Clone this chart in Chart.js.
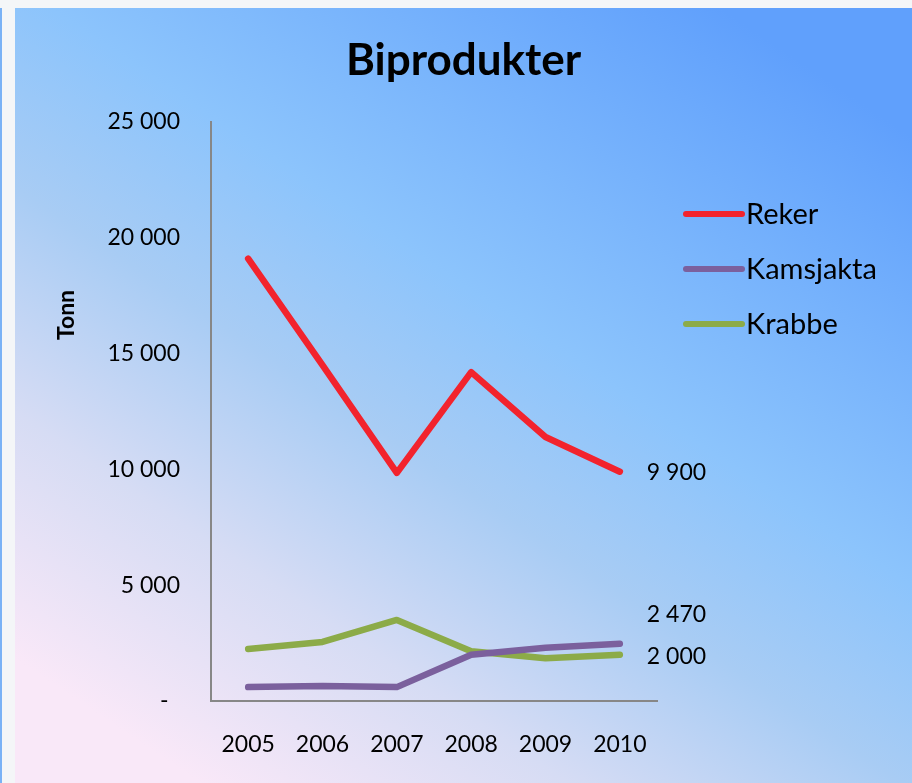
<!DOCTYPE html>
<html>
<head>
<meta charset="utf-8">
<script src="https://cdn.jsdelivr.net/npm/chart.js@4/dist/chart.umd.min.js"></script>
<style>
html,body{margin:0;padding:0;background:#f4f6f8;overflow:hidden}
#wrap{width:912px;height:783px;position:relative}
canvas{display:block}
</style>
</head>
<body>
<div id="wrap"><canvas id="c" width="912" height="783"></canvas></div>
<script>
// ---- data ----
const years = ['2005', '2006', '2007', '2008', '2009', '2010'];
const reker = [19100, 14500, 9850, 14200, 11400, 9900];
const kamsjakta = [600, 650, 600, 2000, 2300, 2470];
const krabbe = [2250, 2550, 3500, 2150, 1850, 2000];
const seriesNames = ['Reker', 'Kamsjakta', 'Krabbe'];
const yMin = 0, yMax = 25000, yStep = 5000;
const chartTitle = 'Biprodukter';
const yAxisTitle = 'Tonn';

function fmt(v) {
  if (v === 0) return '-\u2002';
  return String(v).replace(/\B(?=(\d{3})+(?!\d))/g, ' ');
}

const FONT = 'Lato';

const bgPlugin = {
  id: 'bg',
  beforeDraw(chart) {
    const ctx = chart.ctx;
    ctx.save();
    ctx.fillStyle = '#f4f6f8';
    ctx.fillRect(0, 0, chart.width, chart.height);
    ctx.fillStyle = '#7ab2f6';
    ctx.fillRect(0, 8, 2, chart.height - 8);
    const g = ctx.createLinearGradient(200, 783, 720, 8);
    g.addColorStop(0, '#f9e8f8');
    g.addColorStop(0.22, '#d6dcf4');
    g.addColorStop(0.42, '#a8ccf4');
    g.addColorStop(0.6, '#8cc4fc');
    g.addColorStop(1, '#60a0fc');
    ctx.fillStyle = g;
    ctx.fillRect(15, 8, chart.width - 15, chart.height - 8);
    ctx.restore();
  }
};

const extrasPlugin = {
  id: 'extras',
  afterDatasetsDraw(chart, args, opts) {
    const ctx = chart.ctx;
    const ca = chart.chartArea;
    ctx.save();
    // axis title
    ctx.fillStyle = '#000';
    ctx.font = 'bold 23px ' + FONT;
    ctx.textAlign = 'center';
    ctx.textBaseline = 'middle';
    ctx.translate(67, 315);
    ctx.rotate(-Math.PI / 2);
    ctx.fillText(yAxisTitle, 0, 0);
    ctx.restore();

    // end-of-line value labels
    ctx.save();
    ctx.fillStyle = '#000';
    ctx.font = '23px ' + FONT;
    ctx.textAlign = 'left';
    ctx.textBaseline = 'middle';
    chart.data.datasets.forEach((ds, i) => {
      const meta = chart.getDatasetMeta(i);
      const last = meta.data[meta.data.length - 1];
      const v = ds.data[ds.data.length - 1];
      ctx.fillText(fmt(v), last.x + 27, last.y + opts.labelOffsets[i]);
    });
    ctx.restore();

    // legend
    ctx.save();
    ctx.font = '29px ' + FONT;
    ctx.textAlign = 'left';
    ctx.textBaseline = 'middle';
    chart.data.datasets.forEach((ds, i) => {
      const y = ca.top + 92 + i * 55;
      const x0 = ca.right + 29;
      ctx.strokeStyle = ds.borderColor;
      ctx.lineWidth = 6;
      ctx.lineCap = 'round';
      ctx.beginPath();
      ctx.moveTo(x0, y);
      ctx.lineTo(x0 + 56, y);
      ctx.stroke();
      ctx.fillStyle = '#000';
      ctx.fillText(ds.label, x0 + 60, y + 1);
    });
    ctx.restore();
  }
};

const lineStyle = {
  borderWidth: 6.5,
  pointRadius: 0,
  pointHoverRadius: 0,
  tension: 0,
  borderCapStyle: 'round',
  borderJoinStyle: 'round',
  fill: false
};

new Chart(document.getElementById('c'), {
  type: 'line',
  data: {
    labels: years,
    datasets: [
      Object.assign({ label: seriesNames[0], data: reker, borderColor: '#f2232d', backgroundColor: '#f2232d' }, lineStyle),
      Object.assign({ label: seriesNames[1], data: kamsjakta, borderColor: '#7b609d', backgroundColor: '#7b609d' }, lineStyle),
      Object.assign({ label: seriesNames[2], data: krabbe, borderColor: '#8cab48', backgroundColor: '#8cab48' }, lineStyle)
    ]
  },
  options: {
    responsive: false,
    animation: false,
    devicePixelRatio: 1,
    layout: { padding: { left: 15, top: 0, right: 0, bottom: 22 } },
    plugins: {
      legend: { display: false },
      tooltip: { enabled: false },
      title: {
        display: true,
        text: chartTitle,
        color: '#000',
        font: { family: FONT, size: 44, weight: 'bold', lineHeight: 1.2 },
        padding: { top: 34, bottom: 35.2 }
      },
      extras: { labelOffsets: [1, -29, 2] }
    },
    scales: {
      x: {
        type: 'category',
        offset: true,
        grid: { display: false, drawTicks: false },
        border: { display: true, color: '#878787', width: 2 },
        ticks: { color: '#000', font: { family: FONT, size: 23 }, padding: 30, maxRotation: 0, autoSkip: false },
        afterFit(s) { s.height = 60; }
      },
      y: {
        type: 'linear',
        position: 'left',
        min: yMin,
        max: yMax,
        grid: { display: false, drawTicks: false },
        border: { display: true, color: '#878787', width: 2 },
        ticks: { stepSize: yStep, color: '#000', font: { family: FONT, size: 23 }, padding: 31, callback: (v) => fmt(v) },
        afterFit(s) { s.width = 196; }
      },
      yRight: {
        type: 'linear',
        position: 'right',
        display: true,
        grid: { display: false, drawTicks: false },
        border: { display: false },
        ticks: { display: false },
        afterFit(s) { s.width = 255; }
      }
    }
  },
  plugins: [bgPlugin, extrasPlugin]
});
</script>
</body>
</html>
